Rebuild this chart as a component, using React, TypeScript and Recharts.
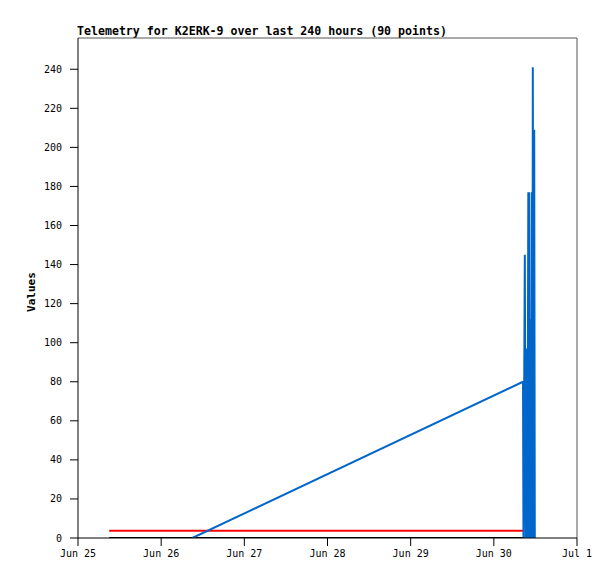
import React from 'react';
import { LineChart, Line, XAxis, YAxis, ReferenceLine, Label } from 'recharts';

// hours since Jun 25 00:00
const xTickHours = [0, 24, 48, 72, 96, 120, 144];
const xTickLabels = ['Jun 25', 'Jun 26', 'Jun 27', 'Jun 28', 'Jun 29', 'Jun 30', 'Jul 1'];
const yTicks = [0, 20, 40, 60, 80, 100, 120, 140, 160, 180, 200, 220, 240];

const blackHours = [9.0, 131.9];
const blackValues = [0, 0];

const redHours = [9.0, 128.4];
const redValues = [3.7, 3.7];

const blueHours = [33.0, 128.42, 128.55, 128.94, 129.17, 129.43, 129.69, 129.95, 130.09, 130.24, 130.41, 130.61, 130.81, 131.01, 131.13, 131.25, 131.45, 131.65, 131.82];
const blueValues = [0, 80, 0, 145, 0, 97, 0, 177, 0, 177, 0, 112, 0, 177, 0, 241, 0, 209, 0];

const toRows = (hs: number[], vs: number[]) => hs.map((t, i) => ({ t, v: vs[i] }));

const blackData = toRows(blackHours, blackValues);
const redData = toRows(redHours, redValues);
const blueData = toRows(blueHours, blueValues);

const MONO = '"DejaVu Sans Mono", "Liberation Mono", monospace';

const YLabel = (props: any) => {
  const vb = props.viewBox || {};
  const x = (vb.x || 0) + 32;
  const y = (vb.y || 0) + (vb.height || 0) / 2 + 4;
  return (
    <text x={x} y={y} transform={`rotate(-90, ${x}, ${y})`} textAnchor="middle" dominantBaseline="middle"
      fontFamily={MONO} fontWeight="bold" fontSize={11} fill="#000">
      Values
    </text>
  );
};

export default function App() {
  return (
    <div style={{ position: 'absolute', left: 0, top: 0, width: 615, height: 579, background: '#fff' }}>
      <div style={{ position: 'absolute', left: 77, top: 24, fontFamily: MONO, fontWeight: 'bold', fontSize: 11.6, lineHeight: '14px', color: '#000', whiteSpace: 'nowrap' }}>
        Telemetry for K2ERK-9 over last 240 hours (90 points)
      </div>
      <LineChart width={615} height={579} margin={{ top: 38, right: 38, bottom: 0, left: 0 }}>
        <XAxis
          type="number"
          dataKey="t"
          domain={[0, 144]}
          ticks={xTickHours}
          allowDataOverflow
          tickFormatter={(v: number) => xTickLabels[xTickHours.indexOf(v)] ?? ''}
          height={41}
          tickSize={8}
          tickMargin={4}
          stroke="#000"
          tick={{ fontFamily: MONO, fontSize: 10, fill: '#000' }}
          interval={0}
        />
        <YAxis
          type="number"
          dataKey="v"
          domain={[0, 256]}
          ticks={yTicks}
          allowDataOverflow
          width={78}
          tickSize={8}
          tickMargin={8}
          stroke="#000"
          tick={{ fontFamily: MONO, fontSize: 10, fill: '#000' }}
          interval={0}
        >
          <Label content={<YLabel />} />
        </YAxis>
        <ReferenceLine y={256} stroke="#555" strokeWidth={1} ifOverflow="visible" />
        <ReferenceLine x={144} stroke="#555" strokeWidth={1} ifOverflow="visible" />
        <Line data={blackData} dataKey="v" type="linear" stroke="#000" strokeWidth={2} dot={false} isAnimationActive={false} />
        <Line data={redData} dataKey="v" type="linear" stroke="#ff0000" strokeWidth={2} dot={false} isAnimationActive={false} />
        <Line data={blueData} dataKey="v" type="linear" stroke="#0066cc" strokeWidth={2} dot={false} isAnimationActive={false} strokeLinejoin="bevel" />
      </LineChart>
    </div>
  );
}
